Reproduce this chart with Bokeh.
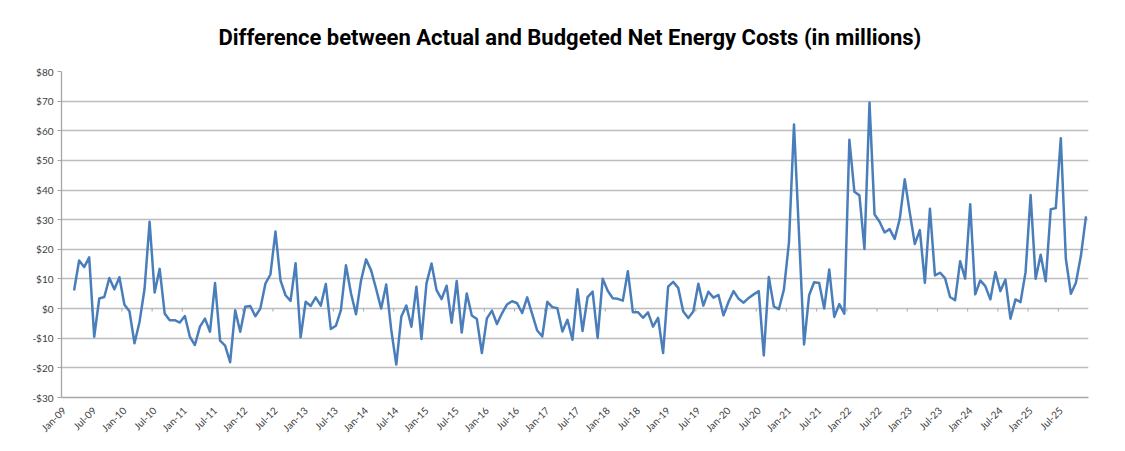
from math import pi
from bokeh.plotting import figure
from bokeh.models import Range1d, FixedTicker, ColumnDataSource
from bokeh.embed import file_html
from bokeh.resources import INLINE

# Monthly difference (actual - budgeted), $ millions, Mar-09 .. Dec-25
start_cat = 2  # Mar-09 (category 0 = Jan-09)
values = [
    6.1, 16.2, 14.0, 17.3, -9.5, 3.4, 3.9, 10.3, 6.5, 10.6,
    1.3, -0.9, -11.7, -4.5, 6.7, 29.3, 5.4, 13.4, -1.7, -3.9,
    -3.9, -4.7, -2.5, -9.5, -12.3, -6.1, -3.4, -7.8, 8.6, -10.8,
    -12.5, -18.1, -0.6, -7.8, 0.6, 0.9, -2.6, 0.0, 8.4, 11.5,
    26.0, 9.5, 4.5, 2.6, 15.3, -9.7, 2.3, 0.9, 3.8, 1.0,
    8.3, -6.9, -5.8, -0.5, 14.6, 5.2, -1.9, 9.5, 16.6, 12.9,
    6.6, 0.0, 8.1, -7.2, -18.9, -2.7, 1.0, -6.1, 7.4, -10.3,
    8.5, 15.2, 6.2, 3.2, 7.7, -4.8, 9.3, -8.1, 5.1, -2.3,
    -3.5, -15.0, -3.3, -0.7, -5.2, -1.6, 1.4, 2.5, 1.8, -1.5,
    3.8, -1.9, -7.4, -9.4, 2.3, 0.5, 0.1, -7.7, -3.8, -10.5,
    6.5, -7.6, 3.9, 5.7, -9.9, 10.1, 6.0, 3.5, 3.3, 2.7,
    12.6, -1.2, -1.2, -3.1, -1.3, -6.1, -3.1, -15.0, 7.4, 9.0,
    7.0, -1.0, -3.2, -1.0, 8.4, 1.0, 5.7, 3.7, 4.6, -2.3,
    2.3, 5.9, 3.3, 2.0, 3.6, 4.8, 5.9, -15.8, 10.7, 0.7,
    -0.2, 6.5, 22.3, 62.1, 25.0, -12.1, 4.5, 8.9, 8.6, 0.0,
    13.2, -2.8, 1.5, -1.7, 57.0, 39.4, 38.2, 20.1, 69.5, 31.8,
    29.3, 25.7, 26.8, 23.5, 30.2, 43.6, 32.4, 21.8, 26.5, 8.7,
    33.7, 11.2, 12.1, 10.3, 3.9, 2.8, 16.0, 10.1, 35.2, 4.8,
    9.5, 7.6, 3.1, 12.3, 5.9, 9.8, -3.4, 3.1, 2.2, 12.3,
    38.3, 10.1, 18.2, 9.2, 33.5, 33.9, 57.5, 16.8, 5.0, 8.7,
    17.9, 31.1,
]

# Category axis: Jan-09 .. Dec-25, labels every 6 months
years = list(range(2009, 2026))
tick_labels = []
for yr in years:
    tick_labels.append("Jan-%02d" % (yr % 100))
    tick_labels.append("Jul-%02d" % (yr % 100))
n_categories = len(years) * 12
label_positions = [6 * i for i in range(len(tick_labels))]
y_ticks = list(range(-30, 90, 10))

cats = [start_cat + i for i in range(len(values))]
src = ColumnDataSource(dict(x=cats, y=values))

p = figure(
    width=1109, height=441,
    output_backend="svg", toolbar_location=None,
    x_range=Range1d(-0.5, n_categories - 0.5),
    y_range=Range1d(y_ticks[0], y_ticks[-1]),
    min_border_left=61, min_border_right=21,
    min_border_top=68, min_border_bottom=44,
    title="Difference between Actual and Budgeted Net Energy Costs (in millions)",
)
p.outline_line_color = None
p.background_fill_color = "white"
p.border_fill_color = "white"

p.title.align = "left"
p.title.offset = 157
p.title.text_font = "Roboto"
p.title.text_font_style = "bold"
p.title.text_font_size = "22px"
p.title.text_color = "#000000"
p.title.standoff = 44

# grid
p.xgrid.visible = False
p.ygrid.ticker = FixedTicker(ticks=y_ticks)
p.ygrid.grid_line_color = "#bdbdbd"
p.ygrid.grid_line_width = 1.3

# y axis
p.yaxis.ticker = FixedTicker(ticks=y_ticks)
p.yaxis.major_label_overrides = {
    v: ("-$%d" % (-v) if v < 0 else "$%d" % v) for v in y_ticks
}
p.yaxis.axis_line_color = "#a6a6a6"
p.yaxis.axis_line_width = 1.3
p.yaxis.major_tick_line_color = "#a6a6a6"
p.yaxis.major_tick_out = 4
p.yaxis.major_tick_in = 0
p.yaxis.minor_tick_line_color = None
p.yaxis.major_label_text_font = "Lato"
p.yaxis.major_label_text_font_size = "10px"
p.yaxis.major_label_text_color = "#404040"
p.yaxis.major_label_standoff = 4

# x axis
p.xaxis.ticker = FixedTicker(ticks=label_positions)
p.xaxis.major_label_overrides = {pos: lab for pos, lab in zip(label_positions, tick_labels)}
p.xaxis.major_label_orientation = pi / 4
p.xaxis.axis_line_color = "#a6a6a6"
p.xaxis.axis_line_width = 1.3
p.xaxis.major_tick_line_color = None
p.xaxis.minor_tick_line_color = None
p.xaxis.major_label_text_font = "Lato"
p.xaxis.major_label_text_font_size = "10px"
p.xaxis.major_label_text_color = "#404040"
p.xaxis.major_label_standoff = 5

# small tick marks where the category axis crosses $0
zero_ticks = [5.5 + 6 * i for i in range(len(tick_labels)) if 5.5 + 6 * i < n_categories - 0.5]
p.segment(x0=zero_ticks, y0=[0] * len(zero_ticks), x1=zero_ticks, y1=[-1.0] * len(zero_ticks),
          line_color="#a6a6a6", line_width=1)

p.line("x", "y", source=src, line_color="#4a7ebb", line_width=2.5, line_join="round")

open("out.html", "w").write(file_html(p, INLINE))
